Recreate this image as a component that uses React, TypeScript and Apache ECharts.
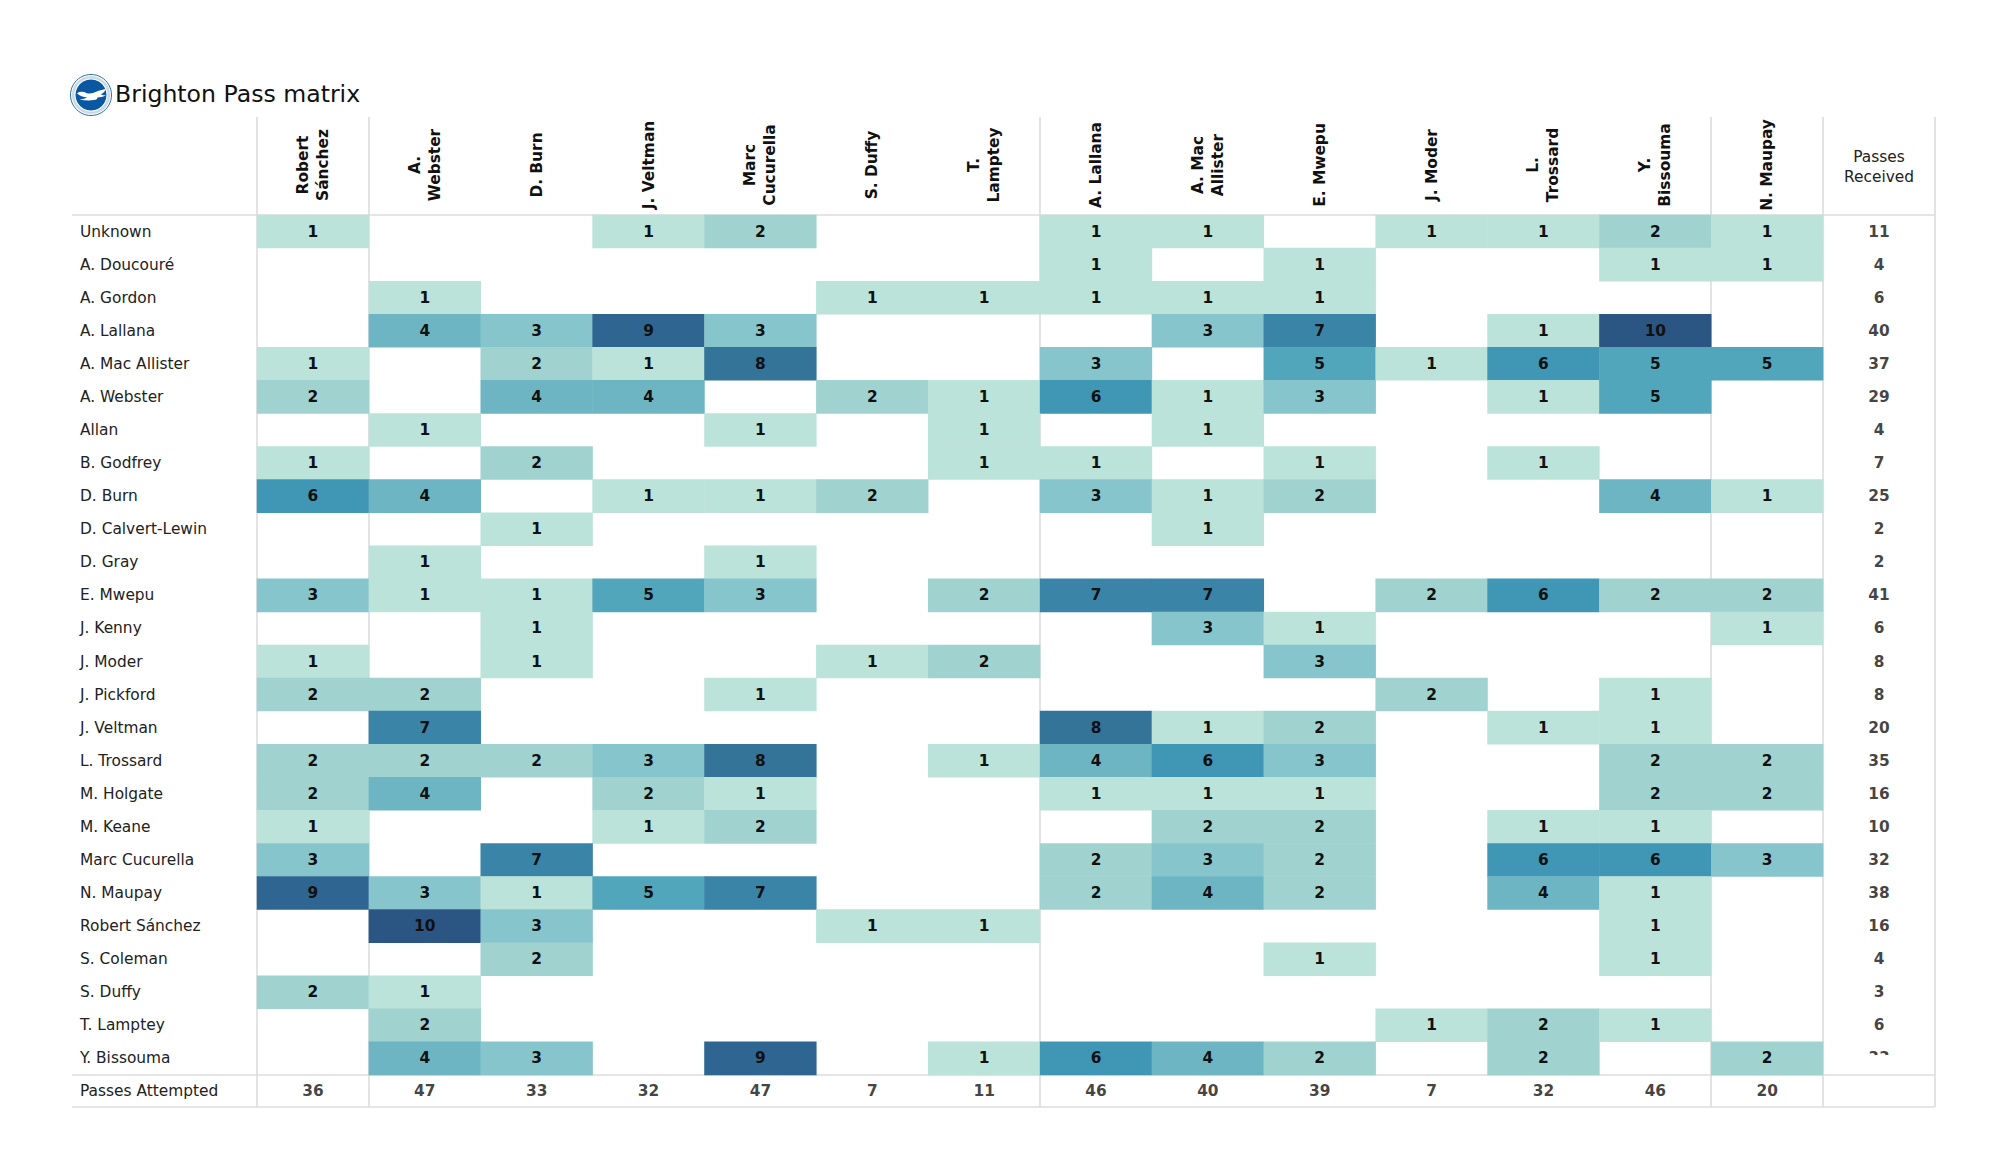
import React, { useEffect, useRef } from "react";
import * as echarts from "echarts";

const columns = ["Robert\nSánchez","A.\nWebster","D. Burn","J. Veltman","Marc\nCucurella","S. Duffy","T.\nLamptey","A. Lallana","A. Mac\nAllister","E. Mwepu","J. Moder","L.\nTrossard","Y.\nBissouma","N. Maupay"];
const rows = ["Unknown","A. Doucouré","A. Gordon","A. Lallana","A. Mac Allister","A. Webster","Allan","B. Godfrey","D. Burn","D. Calvert-Lewin","D. Gray","E. Mwepu","J. Kenny","J. Moder","J. Pickford","J. Veltman","L. Trossard","M. Holgate","M. Keane","Marc Cucurella","N. Maupay","Robert Sánchez","S. Coleman","S. Duffy","T. Lamptey","Y. Bissouma"];
const matrix = [
  [1,0,0,1,2,0,0,1,1,0,1,1,2,1],
  [0,0,0,0,0,0,0,1,0,1,0,0,1,1],
  [0,1,0,0,0,1,1,1,1,1,0,0,0,0],
  [0,4,3,9,3,0,0,0,3,7,0,1,10,0],
  [1,0,2,1,8,0,0,3,0,5,1,6,5,5],
  [2,0,4,4,0,2,1,6,1,3,0,1,5,0],
  [0,1,0,0,1,0,1,0,1,0,0,0,0,0],
  [1,0,2,0,0,0,1,1,0,1,0,1,0,0],
  [6,4,0,1,1,2,0,3,1,2,0,0,4,1],
  [0,0,1,0,0,0,0,0,1,0,0,0,0,0],
  [0,1,0,0,1,0,0,0,0,0,0,0,0,0],
  [3,1,1,5,3,0,2,7,7,0,2,6,2,2],
  [0,0,1,0,0,0,0,0,3,1,0,0,0,1],
  [1,0,1,0,0,1,2,0,0,3,0,0,0,0],
  [2,2,0,0,1,0,0,0,0,0,2,0,1,0],
  [0,7,0,0,0,0,0,8,1,2,0,1,1,0],
  [2,2,2,3,8,0,1,4,6,3,0,0,2,2],
  [2,4,0,2,1,0,0,1,1,1,0,0,2,2],
  [1,0,0,1,2,0,0,0,2,2,0,1,1,0],
  [3,0,7,0,0,0,0,2,3,2,0,6,6,3],
  [9,3,1,5,7,0,0,2,4,2,0,4,1,0],
  [0,10,3,0,0,1,1,0,0,0,0,0,1,0],
  [0,0,2,0,0,0,0,0,0,1,0,0,1,0],
  [2,1,0,0,0,0,0,0,0,0,0,0,0,0],
  [0,2,0,0,0,0,0,0,0,0,1,2,1,0],
  [0,4,3,0,9,0,1,6,4,2,0,2,0,2],
];
const passesReceived = [11,4,6,40,37,29,4,7,25,2,2,41,6,8,8,20,35,16,10,32,38,16,4,3,6,33];
const passesAttempted = [36,47,33,32,47,7,11,46,40,39,7,32,46,20];
const colorScale = ["#bbe3d9","#a0d3d0","#87c5cd","#6eb5c3","#52a6bb","#3f96b5","#3a84a8","#347499","#2e6691","#2b5684"];

const FONT = "DejaVu Sans";
const SIZE = 15.4;
const LINE = "#dcdcdc";
const gull = "M0 14 C10 8 22 8 34 14 C46 18 60 12 74 6 C84 3 94 1 100 0 C96 8 90 14 82 18 C88 20 94 21 100 21 C90 27 80 28 70 28 C72 33 66 36 58 37 C42 39 24 38 8 35 C20 33 30 31 36 28 C22 27 8 22 0 14 Z";
echarts.graphic.registerShape("gull", echarts.graphic.extendPath(gull, {}) as any);

export default function App() {
  const ref = useRef<HTMLDivElement>(null);
  useEffect(() => {
    document.body.style.margin = "0";
    const chart = echarts.init(ref.current!, undefined, { renderer: "svg" });
    const cells: number[][] = [];
    matrix.forEach((r, y) => r.forEach((v, x) => { if (v > 0) cells.push([x, y, v]); }));
    const totals: number[][] = [
      ...passesReceived.map((v, y) => [columns.length, y, v]),
      ...passesAttempted.map((v, x) => [x, rows.length, v]),
    ];
    const vLines = [257, 369, 1040, 1711, 1823, 1935];
    const hLines = [215, 1075, 1107];
    chart.setOption({
      animation: false,
      backgroundColor: "#ffffff",
      title: {
        text: "Brighton Pass matrix",
        left: 110,
        top: 77,
        textStyle: { fontFamily: FONT, fontSize: 23.6, fontWeight: "normal", color: "#111111" },
      },
      grid: { left: 257, top: 215, width: 1678, height: 893, containLabel: false },
      xAxis: {
        type: "category",
        position: "top",
        data: [...columns, ""],
        axisLine: { show: false },
        axisTick: { show: false },
        splitLine: { show: false },
        axisLabel: {
          interval: 0,
          rotate: -90,
          margin: 50,
          align: "center",
          verticalAlign: "middle",
          fontFamily: FONT,
          fontSize: SIZE,
          lineHeight: 20,
          fontWeight: "bold",
          color: "#111111",
          hideOverlap: false,
        },
      },
      yAxis: {
        type: "category",
        inverse: true,
        data: [...rows, "Passes Attempted"],
        axisLine: { show: false },
        axisTick: { show: false },
        splitLine: { show: false },
        axisLabel: {
          interval: 0,
          margin: 177,
          align: "left",
          fontFamily: FONT,
          fontSize: SIZE,
          color: "#222222",
          hideOverlap: false,
        },
      },
      visualMap: {
        show: false,
        type: "continuous",
        seriesIndex: 0,
        dimension: 2,
        min: 1,
        max: colorScale.length,
        inRange: { color: colorScale },
      },
      series: [
        {
          type: "heatmap",
          data: cells,
          z: 2,
          label: { show: true, fontFamily: FONT, fontSize: SIZE, fontWeight: "bold", color: "#111111" },
          emphasis: { disabled: true },
        },
        {
          type: "scatter",
          data: totals,
          z: 2,
          symbol: "rect",
          symbolSize: 1,
          silent: true,
          itemStyle: { color: "rgba(255,255,255,0)" },
          label: {
            show: true,
            position: "inside",
            formatter: (p: any) => String(p.value[2]),
            fontFamily: FONT, fontSize: SIZE, fontWeight: "bold", color: "#111111",
          },
          emphasis: { disabled: true },
        },
      ],
      graphic: {
        elements: [
          ...vLines.map((x) => ({
            type: "line", z: 0, silent: true,
            shape: { x1: x, y1: 117, x2: x, y2: 1107 },
            style: { stroke: LINE, lineWidth: 1.6 },
          })),
          ...hLines.map((y) => ({
            type: "line", z: 0, silent: true,
            shape: { x1: 72, y1: y, x2: 1935, y2: y },
            style: { stroke: LINE, lineWidth: 1.6 },
          })),
          {
            type: "text", z: 5, silent: true, x: 1879, y: 167,
            style: {
              text: "Passes\nReceived",
              fontFamily: FONT, fontSize: SIZE, lineHeight: 20,
              fill: "#222222", textAlign: "center", textVerticalAlign: "middle",
            },
          },
          // covers the lower part of the last "Passes Received" value, cut off in the reference
          { type: "rect", z: 20, silent: true, shape: { x: 1825, y: 1055, width: 108, height: 19 }, style: { fill: "#ffffff" } },
          // crest
          { type: "circle", z: 5, silent: true, shape: { cx: 91, cy: 95, r: 20.5 }, style: { fill: "#ffffff", stroke: "#2a6f97", lineWidth: 1 } },
          { type: "ring", z: 5, silent: true, shape: { cx: 91, cy: 95, r: 19, r0: 16.5 }, style: { fill: "#c9d9e8" } },
          { type: "circle", z: 6, silent: true, shape: { cx: 91, cy: 95, r: 15.5 }, style: { fill: "#0a57a4" } },
          { type: "gull", z: 7, silent: true, x: 77, y: 89, scaleX: 0.29, scaleY: 0.3, style: { fill: "#ffffff" } },
        ],
      },
    });
    return () => chart.dispose();
  }, []);
  return <div ref={ref} style={{ position: "absolute", left: 0, top: 0, width: 2000, height: 1175 }} />;
}
